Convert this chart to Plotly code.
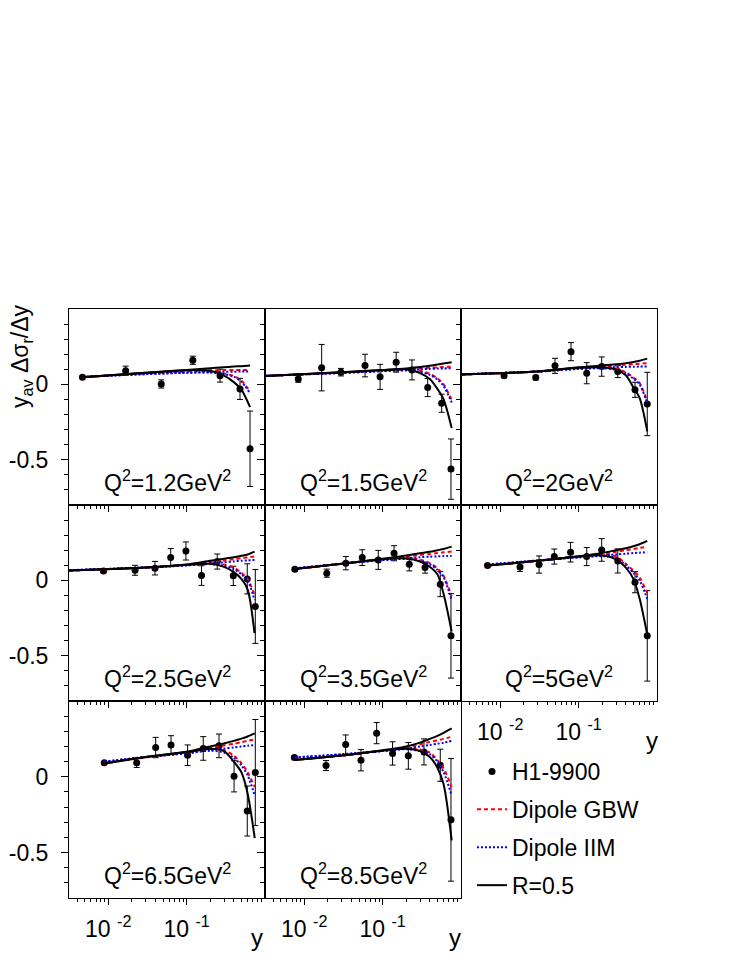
import plotly.graph_objects as go

# The page body has an 8px margin; the figure is sized so the visible page matches 747x967.
PAGE_W, PAGE_H = 747, 967
OFF = 8
W, H = PAGE_W - 2 * OFF, PAGE_H - 2 * OFF


def fx(px):
    return (px - OFF) / W


def fy(py):
    return 1 - (py - OFF) / H


q2_values = ["1.2", "1.5", "2", "2.5", "3.5", "5", "6.5", "8.5"]

# H1-9900 data, one list per Q2 panel
data_x = [
    [0.0047, 0.0167, 0.0475, 0.120, 0.267, 0.480, 0.644],
    [0.0084, 0.0167, 0.0294, 0.0597, 0.0929, 0.149, 0.237, 0.376, 0.567, 0.745],
    [0.0112, 0.0284, 0.050, 0.080, 0.127, 0.197, 0.316, 0.524, 0.751],
    [0.0087, 0.022, 0.0395, 0.0627, 0.098, 0.155, 0.246, 0.394, 0.594, 0.752],
    [0.0076, 0.0194, 0.034, 0.055, 0.088, 0.140, 0.219, 0.348, 0.544, 0.745],
    [0.0069, 0.0179, 0.0313, 0.049, 0.079, 0.127, 0.197, 0.316, 0.524, 0.751],
    [0.0089, 0.0231, 0.0403, 0.0633, 0.103, 0.163, 0.259, 0.403, 0.594, 0.752],
    [0.0075, 0.019, 0.0338, 0.053, 0.084, 0.134, 0.213, 0.337, 0.544, 0.745],
]
data_y = [
    [0.048, 0.091, 0.003, 0.160, 0.058, -0.030, -0.427],
    [0.036, 0.111, 0.081, 0.125, 0.050, 0.147, 0.096, -0.021, -0.125, -0.562],
    [0.058, 0.045, 0.123, 0.217, 0.074, 0.118, 0.085, -0.036, -0.130],
    [0.063, 0.067, 0.081, 0.151, 0.195, 0.032, 0.125, 0.030, 0.010, -0.173],
    [0.074, 0.048, 0.114, 0.151, 0.136, 0.180, 0.107, 0.085, -0.025, -0.368],
    [0.098, 0.089, 0.105, 0.158, 0.187, 0.158, 0.202, 0.129, -0.012, -0.368],
    [0.092, 0.092, 0.193, 0.209, 0.142, 0.187, 0.204, 0.003, -0.226, 0.028],
    [0.127, 0.074, 0.213, 0.109, 0.288, 0.154, 0.138, 0.164, 0.076, -0.284],
]
data_err = [
    [0.008, 0.030, 0.027, 0.027, 0.043, 0.070, 0.250],
    [0.022, 0.154, 0.025, 0.075, 0.083, 0.066, 0.066, 0.060, 0.060, 0.200],
    [0.012, 0.015, 0.050, 0.060, 0.070, 0.064, 0.040, 0.050, 0.210],
    [0.010, 0.033, 0.045, 0.060, 0.060, 0.065, 0.050, 0.064, 0.100, 0.245],
    [0.010, 0.027, 0.044, 0.052, 0.063, 0.050, 0.044, 0.037, 0.083, 0.280],
    [0.010, 0.030, 0.057, 0.050, 0.065, 0.060, 0.075, 0.080, 0.070, 0.300],
    [0.010, 0.031, 0.067, 0.062, 0.068, 0.078, 0.078, 0.103, 0.165, 0.350],
    [0.010, 0.033, 0.063, 0.070, 0.070, 0.077, 0.088, 0.086, 0.106, 0.405],
]

# model curves: sampling points per panel
curve_x = [
    [0.0047, 0.03, 0.1, 0.2, 0.3, 0.4, 0.5, 0.645],
    [0.00316, 0.03, 0.1, 0.2, 0.3, 0.4, 0.5, 0.6, 0.76],
    [0.00316, 0.03, 0.1, 0.2, 0.3, 0.4, 0.5, 0.6, 0.751],
    [0.00316, 0.03, 0.1, 0.2, 0.3, 0.4, 0.5, 0.6, 0.735],
    [0.0076, 0.03, 0.1, 0.2, 0.3, 0.4, 0.5, 0.6, 0.76],
    [0.0069, 0.03, 0.1, 0.2, 0.3, 0.4, 0.5, 0.6, 0.751],
    [0.0089, 0.03, 0.1, 0.2, 0.3, 0.4, 0.5, 0.6, 0.74],
    [0.0075, 0.03, 0.1, 0.2, 0.3, 0.4, 0.5, 0.6, 0.76],
]
r05_upper = [
    [0.048, 0.077, 0.096, 0.107, 0.113, 0.118, 0.121, 0.125],
    [0.056, 0.080, 0.095, 0.105, 0.115, 0.124, 0.132, 0.139, 0.147],
    [0.065, 0.086, 0.113, 0.125, 0.133, 0.141, 0.149, 0.157, 0.171],
    [0.065, 0.085, 0.105, 0.130, 0.143, 0.153, 0.163, 0.172, 0.191],
    [0.076, 0.110, 0.143, 0.165, 0.180, 0.190, 0.200, 0.208, 0.224],
    [0.098, 0.130, 0.160, 0.182, 0.200, 0.213, 0.226, 0.240, 0.262],
    [0.088, 0.130, 0.165, 0.200, 0.220, 0.237, 0.252, 0.266, 0.286],
    [0.110, 0.140, 0.175, 0.200, 0.225, 0.250, 0.270, 0.290, 0.319],
]
r05_lower = [
    [0.048, 0.077, 0.094, 0.090, 0.058, 0.015, -0.035, -0.151],
    [0.056, 0.080, 0.095, 0.100, 0.075, 0.035, -0.030, -0.100, -0.290],
    [0.065, 0.086, 0.110, 0.113, 0.098, 0.060, -0.020, -0.090, -0.312],
    [0.065, 0.085, 0.103, 0.110, 0.090, 0.055, 0.010, -0.060, -0.350],
    [0.076, 0.110, 0.140, 0.145, 0.125, 0.090, 0.040, -0.090, -0.339],
    [0.098, 0.130, 0.158, 0.165, 0.140, 0.085, 0.010, -0.120, -0.361],
    [0.088, 0.130, 0.163, 0.185, 0.170, 0.100, 0.030, -0.110, -0.405],
    [0.110, 0.140, 0.172, 0.185, 0.170, 0.130, 0.060, -0.050, -0.420],
]
gbw_upper = [
    [0.048, 0.074, 0.088, 0.093, 0.095, 0.096, 0.096, 0.096],
    [0.056, 0.078, 0.092, 0.100, 0.106, 0.110, 0.113, 0.116, 0.118],
    [0.065, 0.086, 0.108, 0.118, 0.125, 0.130, 0.134, 0.137, 0.140],
    [0.065, 0.085, 0.103, 0.122, 0.132, 0.140, 0.147, 0.152, 0.158],
    [0.076, 0.110, 0.140, 0.158, 0.168, 0.175, 0.181, 0.186, 0.191],
    [0.098, 0.130, 0.158, 0.176, 0.190, 0.200, 0.208, 0.215, 0.224],
    [0.088, 0.128, 0.160, 0.190, 0.207, 0.218, 0.228, 0.237, 0.246],
    [0.112, 0.140, 0.172, 0.195, 0.215, 0.230, 0.240, 0.250, 0.264],
]
gbw_lower = [
    [0.048, 0.074, 0.086, 0.085, 0.072, 0.055, 0.025, -0.047],
    [0.056, 0.078, 0.092, 0.098, 0.090, 0.070, 0.040, 0.000, -0.103],
    [0.065, 0.086, 0.108, 0.115, 0.105, 0.080, 0.045, 0.010, -0.114],
    [0.065, 0.085, 0.103, 0.115, 0.105, 0.085, 0.050, 0.010, -0.096],
    [0.076, 0.110, 0.140, 0.150, 0.138, 0.115, 0.080, 0.030, -0.107],
    [0.098, 0.130, 0.158, 0.170, 0.160, 0.110, 0.065, 0.020, -0.085],
    [0.088, 0.128, 0.160, 0.185, 0.175, 0.140, 0.090, 0.030, -0.068],
    [0.112, 0.140, 0.172, 0.190, 0.180, 0.160, 0.110, 0.055, -0.068],
]
iim_upper = [
    [0.050, 0.068, 0.078, 0.082, 0.083, 0.084, 0.085, 0.085],
    [0.057, 0.076, 0.088, 0.095, 0.100, 0.103, 0.105, 0.106, 0.107],
    [0.067, 0.085, 0.103, 0.110, 0.114, 0.116, 0.117, 0.118, 0.118],
    [0.068, 0.085, 0.100, 0.113, 0.120, 0.126, 0.130, 0.133, 0.136],
    [0.080, 0.110, 0.135, 0.148, 0.154, 0.157, 0.159, 0.161, 0.162],
    [0.105, 0.132, 0.153, 0.165, 0.172, 0.177, 0.181, 0.184, 0.187],
    [0.100, 0.130, 0.155, 0.175, 0.186, 0.194, 0.200, 0.205, 0.209],
    [0.127, 0.148, 0.170, 0.186, 0.200, 0.210, 0.218, 0.225, 0.237],
]
iim_lower = [
    [0.050, 0.068, 0.077, 0.078, 0.068, 0.050, 0.018, -0.058],
    [0.057, 0.076, 0.088, 0.092, 0.083, 0.063, 0.033, -0.010, -0.120],
    [0.067, 0.085, 0.103, 0.107, 0.097, 0.073, 0.038, 0.000, -0.125],
    [0.068, 0.085, 0.100, 0.108, 0.097, 0.075, 0.040, 0.000, -0.130],
    [0.080, 0.110, 0.135, 0.142, 0.130, 0.107, 0.070, 0.020, -0.130],
    [0.105, 0.132, 0.153, 0.160, 0.150, 0.100, 0.050, 0.000, -0.122],
    [0.100, 0.130, 0.155, 0.172, 0.160, 0.125, 0.075, 0.010, -0.123],
    [0.127, 0.148, 0.170, 0.182, 0.170, 0.150, 0.100, 0.030, -0.123],
]

x_tickvals = [0.01, 0.1]
x_ticktext = ["10 <sup>-2</sup>", "10 <sup>-1</sup>"]
x_minor = [0.004, 0.005, 0.006, 0.007, 0.008, 0.009,
           0.02, 0.03, 0.04, 0.05, 0.06, 0.07, 0.08, 0.09,
           0.2, 0.3, 0.4, 0.5, 0.6, 0.7, 0.8, 0.9]
y_tickvals = [-0.5, 0]
y_ticktext = ["-0.5", "0"]
y_minor = [-0.7, -0.6, -0.4, -0.3, -0.2, -0.1, 0.1, 0.2, 0.3, 0.4]

FONT = "Liberation Sans, Arial, sans-serif"

# panel geometry in page pixels
col_edges = [69, 265, 461, 657]
row_edges = [309, 505, 701, 898]

fig = go.Figure()

models = [
    ("Dipole GBW", "red", "4px,3px", gbw_upper, gbw_lower),
    ("Dipole IIM", "blue", "2px,2px", iim_upper, iim_lower),
    ("R=0.5", "black", "solid", r05_upper, r05_lower),
]

for i in range(8):
    ax = "" if i == 0 else str(i + 1)
    xa, ya = "x" + ax, "y" + ax
    fig.add_trace(go.Scatter(
        x=data_x[i], y=data_y[i], mode="markers",
        marker=dict(color="black", size=7),
        error_y=dict(type="data", array=data_err[i], color="black",
                     thickness=1, width=3),
        name="H1-9900", legendgroup="data", showlegend=(i == 0),
        xaxis=xa, yaxis=ya))
    for name, color, dash, up, lo in models:
        for k, ys in enumerate((up[i], lo[i])):
            fig.add_trace(go.Scatter(
                x=curve_x[i], y=ys, mode="lines",
                line=dict(color=color, width=2, dash=dash,
                          shape="spline", smoothing=0.8),
                name=name, legendgroup=name,
                showlegend=(i == 0 and k == 0),
                xaxis=xa, yaxis=ya))

layout = dict(
    width=W, height=H, margin=dict(l=0, r=0, t=0, b=0, autoexpand=False),
    paper_bgcolor="white", plot_bgcolor="white",
    font=dict(family=FONT, size=23, color="black"),
    showlegend=True,
    legend=dict(x=fx(472), y=fy(750), xanchor="left", yanchor="top",
                font=dict(size=23), tracegroupgap=5, itemwidth=30,
                bgcolor="rgba(0,0,0,0)"),
)

annotations = []
for i in range(8):
    r, c = divmod(i, 3)
    ax = "" if i == 0 else str(i + 1)
    show_x = i in (5, 6, 7)
    layout["xaxis" + ax] = dict(
        type="log", range=[-2.5, 0], automargin=False,
        domain=[fx(col_edges[c]), fx(col_edges[c + 1])],
        anchor="y" + ax, showline=True, mirror=True, linecolor="black",
        linewidth=1, showgrid=False, zeroline=False,
        tickmode="array", tickvals=x_tickvals, ticktext=x_ticktext,
        showticklabels=show_x, ticks="outside", ticklen=6, tickcolor="black",
        tickfont=dict(size=23), ticklabelstandoff=4,
        minor=dict(tickmode="array", tickvals=x_minor, ticks="outside",
                   ticklen=3, tickcolor="black"),
    )
    layout["yaxis" + ax] = dict(
        range=[-0.8, 0.5], automargin=False,
        domain=[fy(row_edges[r + 1]), fy(row_edges[r])],
        anchor="x" + ax, showline=True, mirror=True, linecolor="black",
        linewidth=1, showgrid=False, zeroline=False,
        tickmode="array", tickvals=y_tickvals, ticktext=y_ticktext,
        showticklabels=(c == 0), ticks="outside", ticklen=7, tickcolor="black",
        tickfont=dict(size=23), ticklabelstandoff=8,
        minor=dict(tickmode="array", tickvals=y_minor, ticks="outside",
                   ticklen=4, tickcolor="black"),
    )
    annotations.append(dict(
        text="Q<sup>2</sup>=" + q2_values[i] + "GeV<sup>2</sup>",
        xref="x" + ax + " domain", yref="y" + ax + " domain",
        x=0.5, y=24 / 196, xanchor="center", yanchor="middle",
        showarrow=False, font=dict(size=23)))

for (px, py) in [(257, 937), (455, 937), (652, 740)]:
    annotations.append(dict(text="y", xref="paper", yref="paper",
                            x=fx(px), y=fy(py), xanchor="center",
                            yanchor="middle", showarrow=False,
                            font=dict(size=24)))

annotations.append(dict(
    text="y<sub>av</sub> Δσ<sub>r</sub>/Δy", xref="paper", yref="paper",
    x=fx(22), y=fy(356), xanchor="center", yanchor="middle",
    textangle=-90, showarrow=False, font=dict(size=23)))

layout["annotations"] = annotations
fig.update_layout(**layout)
fig.write_html("out.html")
